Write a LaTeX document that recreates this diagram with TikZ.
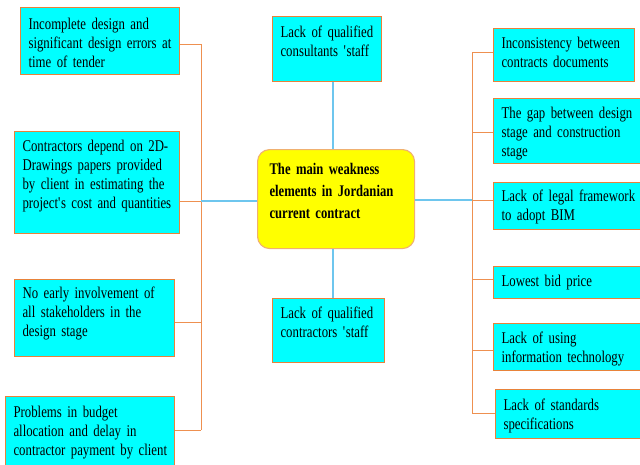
\documentclass[tikz,border=0pt]{standalone}
\usepackage{fontspec}
\setmainfont{Liberation Serif}[FakeStretch=0.78, WordSpace=0.6]
\definecolor{boxcyan}{HTML}{00FFFF}
\definecolor{boxorange}{HTML}{E8823A}
\definecolor{lineorange}{HTML}{EE9050}
\definecolor{lineblue}{HTML}{6EC6EE}
\definecolor{mainyellow}{HTML}{FFFF00}
\definecolor{mainborder}{HTML}{F0B070}
\newcommand{\boxfont}{\fontsize{16.4}{19}\selectfont}
\newcommand{\mainboxfont}{\fontsize{16.2}{22}\selectfont\bfseries}
\newcommand{\oneline}[1]{\mbox{#1}}
\begin{document}
\begin{tikzpicture}[x=1pt,y=-1pt,
 sbox/.style={draw=boxorange, line width=1.1pt, fill=boxcyan, anchor=north west, align=left, inner xsep=8pt, inner ysep=0pt, font=\boxfont, text=black},
 mainbox/.style={draw=mainborder, line width=1.1pt, fill=mainyellow, rounded corners=12pt, anchor=north west, align=left, inner xsep=12pt, inner ysep=0pt, font=\mainboxfont, text=black},
 oline/.style={draw=lineorange, line width=1pt},
 bline/.style={draw=lineblue, line width=1.5pt}]
\useasboundingbox (0,0) rectangle (640,464);

% left boxes
\node[sbox, text width=143pt, text height=22pt, text depth=45pt] (l1) at (20,7) {\oneline{Incomplete design and}\\ \oneline{significant design errors at}\\ \oneline{time of tender}};
\node[sbox, text width=149pt, text height=20pt, text depth=82pt] (l2) at (14,131) {\oneline{Contractors depend on 2D-}\\ \oneline{Drawings papers provided}\\ \oneline{by client in estimating the}\\ \oneline{project\textquotesingle s cost and quantities}};
\node[sbox, text width=144pt, text height=19pt, text depth=58pt] (l3) at (14,279) {\oneline{No early involvement of}\\ \oneline{all stakeholders in the}\\ \oneline{design stage}};
\node[sbox, text width=153pt, text height=21pt, text depth=49pt] (l4) at (5,396) {\oneline{Problems in budget}\\ \oneline{allocation and delay in}\\ \oneline{contractor payment by client}};

% middle column
\node[sbox, text width=93pt, text height=21pt, text depth=44pt] (top) at (272,16) {\oneline{Lack of qualified}\\ \oneline{consultants \textquotesingle staff}};
\node[sbox, text width=96pt, text height=20pt, text depth=44pt] (bot) at (272,298) {\oneline{Lack of qualified}\\ \oneline{contractors \textquotesingle staff}};
\node[mainbox, text width=133pt, text height=25pt, text depth=74pt] (main) at (257,149) {\oneline{The main weakness}\\ \oneline{elements in Jordanian}\\ \oneline{current contract}};

% right boxes
\node[sbox, text width=125pt, text height=20pt, text depth=33pt] (r1) at (493,28) {\oneline{Inconsistency between}\\ \oneline{contracts documents}};
\node[sbox, text width=134pt, text height=20pt, text depth=45pt] (r2) at (493,98) {\oneline{The gap between design}\\ \oneline{stage and construction}\\ \oneline{stage}};
\node[sbox, text width=134pt, text height=19pt, text depth=28pt] (r3) at (493,182) {\oneline{Lack of legal framework}\\ \oneline{to adopt BIM}};
\node[sbox, text width=134pt, text height=20pt, text depth=12pt] (r4) at (493,266) {\oneline{Lowest bid price}};
\node[sbox, text width=134pt, text height=20pt, text depth=27pt] (r5) at (493,323) {\oneline{Lack of using}\\ \oneline{information technology}};
\node[sbox, text width=132pt, text height=21pt, text depth=28pt] (r6) at (495,389) {\oneline{Lack of standards}\\ \oneline{specifications}};

% left trunk
\coordinate (lt1) at (201,44);
\coordinate (lt2) at (201,201);
\coordinate (lt3) at (201,322);
\coordinate (lt4) at (201,430);
\draw[oline] (lt1) -- (lt4);
\draw[oline] (l1.east |- lt1) -- (lt1);
\draw[oline] (l2.east |- lt2) -- (lt2);
\draw[oline] (l3.east |- lt3) -- (lt3);
\draw[oline] (l4.east |- lt4) -- (lt4);
\draw[bline] (lt2) -- (main.west |- lt2);

% right trunk
\coordinate (rt1) at (472,52);
\coordinate (rt2) at (472,132);
\coordinate (rt3) at (472,200);
\coordinate (rt4) at (472,279);
\coordinate (rt5) at (472,350);
\coordinate (rt6) at (472,413);
\draw[oline] (rt1) -- (rt6);
\draw[oline] (rt1) -- (r1.west |- rt1);
\draw[oline] (rt2) -- (r2.west |- rt2);
\draw[oline] (rt3) -- (r3.west |- rt3);
\draw[oline] (rt4) -- (r4.west |- rt4);
\draw[oline] (rt5) -- (r5.west |- rt5);
\draw[oline] (rt6) -- (r6.west |- rt6);
\draw[bline] (main.east |- rt3) -- (rt3);

% vertical connectors
\coordinate (cx) at (333,0);
\draw[bline] (top.south -| cx) -- (main.north -| cx);
\draw[bline] (main.south -| cx) -- (bot.north -| cx);
\end{tikzpicture}
\end{document}
